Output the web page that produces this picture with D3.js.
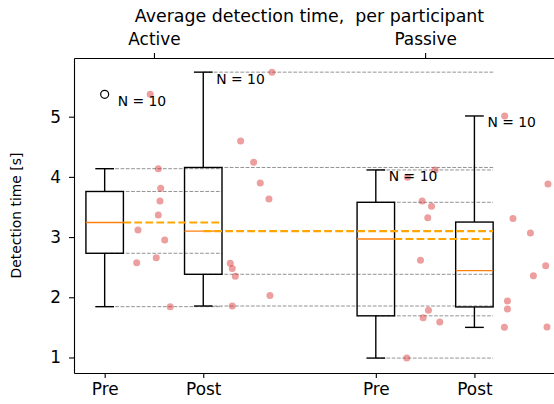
<!DOCTYPE html>
<html>
<head>
<meta charset="utf-8">
<script src="https://cdn.jsdelivr.net/npm/d3@7"></script>
<style>
  html, body { margin: 0; padding: 0; background: #fff; }
  svg { display: block; font-family: "DejaVu Sans", sans-serif; }
</style>
</head>
<body>
<svg id="chart" width="554" height="404"></svg>
<script>
// ---- data ----
const categories = ["Pre", "Post", "Pre", "Post"];
const positions = [1, 2, 3.75, 4.75];
const groups = ["Active", "Passive"];
const groupPositions = [1.5, 4.25];
const yTicks = [1, 2, 3, 4, 5];

const activePre  = [5.372, 4.136, 3.81, 3.60, 3.367, 3.118, 2.95, 2.575, 2.658, 1.844];
const activePreX = [1.462, 1.544, 1.568, 1.561, 1.544, 1.338, 1.609, 1.325, 1.523, 1.665];
const activePost  = [5.74, 4.596, 4.242, 3.899, 3.633, 2.565, 2.48, 2.349, 1.855, 2.03];
const activePostX = [2.697, 2.379, 2.511, 2.578, 2.666, 2.274, 2.294, 2.325, 2.294, 2.676];
const passivePre  = [4.115, 3.993, 3.60, 3.512, 3.322, 2.615, 1.784, 1.661, 1.59, 0.99];
const passivePreX = [4.351, 4.071, 4.22, 4.315, 4.277, 4.203, 4.284, 4.23, 4.399, 4.064];
const passivePost  = [5.012, 3.882, 3.31, 3.068, 2.525, 2.359, 1.94, 1.806, 1.50, 1.507];
const passivePostX = [5.057, 5.496, 5.141, 5.318, 5.473, 5.348, 5.085, 5.085, 5.054, 5.486];

const seriesValues = [activePre, activePost, passivePre, passivePost];
const seriesX = [activePreX, activePostX, passivePreX, passivePostX];
// reference lines: box index -> box index whose right edge ends the line
const comparisons = [[0, 1], [1, 3], [2, 3]];

(function () {
// ---- layout ----
const svg = d3.select("#chart");
const plotLeft = 74, plotTop = 58, plotBottom = 373;
const x = d3.scaleLinear().domain([0.689, 5.6]).range([74, 74 + 4.911 * 98.6]);
const y = d3.scaleLinear().domain([0.742, 5.975]).range([plotBottom, plotTop]);
const boxHalf = 0.19, capHalf = 0.095;
const FS = 16.9, FSt = 17.4, FSs = 13.9;

svg.append("rect").attr("width", 554).attr("height", 404).attr("fill", "#fff");

function stats(vals) {
  const s = vals.slice().sort(d3.ascending);
  const q1 = d3.quantileSorted(s, 0.25), med = d3.quantileSorted(s, 0.5), q3 = d3.quantileSorted(s, 0.75);
  const iqr = q3 - q1;
  const hi = d3.max(s.filter(v => v <= q3 + 1.5 * iqr));
  const lo = d3.min(s.filter(v => v >= q1 - 1.5 * iqr));
  const out = s.filter(v => v > hi || v < lo);
  return { q1, med, q3, hi, lo, out, n: s.length, top: d3.max(s) };
}
const S = seriesValues.map(stats);

const plot = svg.append("g");

// gray reference lines
comparisons.forEach(([a, b]) => {
  const st = S[a];
  [st.lo, st.q1, st.q3, st.hi].forEach(v => {
    plot.append("line")
      .attr("x1", x(positions[a])).attr("x2", x(positions[b] + boxHalf))
      .attr("y1", y(v)).attr("y2", y(v))
      .attr("stroke", "#808080").attr("stroke-opacity", 0.85)
      .attr("stroke-width", 1).attr("stroke-dasharray", "3.7,1.6");
  });
});

// boxes
S.forEach((st, i) => {
  const cx = positions[i];
  const g = plot.append("g").attr("stroke", "#000").attr("stroke-width", 1.4).attr("fill", "none");
  g.append("rect")
    .attr("x", x(cx - boxHalf)).attr("y", y(st.q3))
    .attr("width", x(cx + boxHalf) - x(cx - boxHalf)).attr("height", y(st.q1) - y(st.q3));
  g.append("line").attr("x1", x(cx)).attr("x2", x(cx)).attr("y1", y(st.q3)).attr("y2", y(st.hi));
  g.append("line").attr("x1", x(cx)).attr("x2", x(cx)).attr("y1", y(st.q1)).attr("y2", y(st.lo));
  g.append("line").attr("x1", x(cx - capHalf)).attr("x2", x(cx + capHalf)).attr("y1", y(st.hi)).attr("y2", y(st.hi));
  g.append("line").attr("x1", x(cx - capHalf)).attr("x2", x(cx + capHalf)).attr("y1", y(st.lo)).attr("y2", y(st.lo));
  st.out.forEach(v => {
    g.append("circle").attr("cx", x(cx)).attr("cy", y(v)).attr("r", 4).attr("stroke-width", 1.2);
  });
  plot.append("line")
    .attr("x1", x(cx - boxHalf)).attr("x2", x(cx + boxHalf))
    .attr("y1", y(st.med)).attr("y2", y(st.med))
    .attr("stroke", "#ff7f0e").attr("stroke-width", 1.4);
});

// orange median reference lines
comparisons.forEach(([a, b], k) => {
  const st = S[a];
  const start = k === 1 ? positions[a] : positions[a] + boxHalf;
  plot.append("line")
    .attr("x1", x(start)).attr("x2", x(positions[b] + boxHalf))
    .attr("y1", y(st.med)).attr("y2", y(st.med))
    .attr("stroke", "#ffa500").attr("stroke-width", 2.1)
    .attr("stroke-dasharray", "7.7,3.3");
});

// points
seriesValues.forEach((vals, i) => {
  plot.selectAll(null).data(vals).enter().append("circle")
    .attr("cx", (d, j) => x(seriesX[i][j]))
    .attr("cy", d => y(d))
    .attr("r", 3.5)
    .attr("fill", "#d62728").attr("fill-opacity", 0.45);
});

// N labels
S.forEach((st, i) => {
  svg.append("text")
    .attr("x", x(positions[i]) + 13)
    .attr("y", y(st.top) + 11.5)
    .attr("font-size", FSs)
    .text(`N = ${st.n}`);
});

// axes
const yAxis = svg.append("g").attr("transform", `translate(${plotLeft},0)`)
  .call(d3.axisLeft(y).tickValues(yTicks).tickFormat(d3.format("d")).tickSize(5).tickPadding(8).tickSizeOuter(0));
const xAxis = svg.append("g").attr("transform", `translate(0,${plotBottom})`)
  .call(d3.axisBottom(x).tickValues(positions).tickFormat((d, i) => categories[i]).tickSize(5).tickPadding(5.5).tickSizeOuter(0));
const tAxis = svg.append("g").attr("transform", `translate(0,${plotTop})`)
  .call(d3.axisTop(x).tickValues(groupPositions).tickFormat((d, i) => groups[i]).tickSize(5).tickPadding(8).tickSizeOuter(0));
[yAxis, xAxis, tAxis].forEach(a => {
  a.selectAll("text").attr("font-size", FS).attr("font-family", "DejaVu Sans").attr("fill", "#000");
  a.selectAll("line").attr("stroke", "#000").attr("stroke-width", 1.1);
  a.select(".domain").attr("stroke", "#000").attr("stroke-width", 1.1);
});

// title
svg.append("text")
  .attr("x", 309.5).attr("y", 22)
  .attr("text-anchor", "middle").attr("font-size", FSt)
  .style("white-space", "pre")
  .text("Average detection time,  per participant");

// y label
svg.append("text")
  .attr("transform", `translate(21,${(plotTop + plotBottom) / 2}) rotate(-90)`)
  .attr("text-anchor", "middle").attr("font-size", FSs)
  .text("Detection time [s]");
})();
</script>
</body>
</html>
